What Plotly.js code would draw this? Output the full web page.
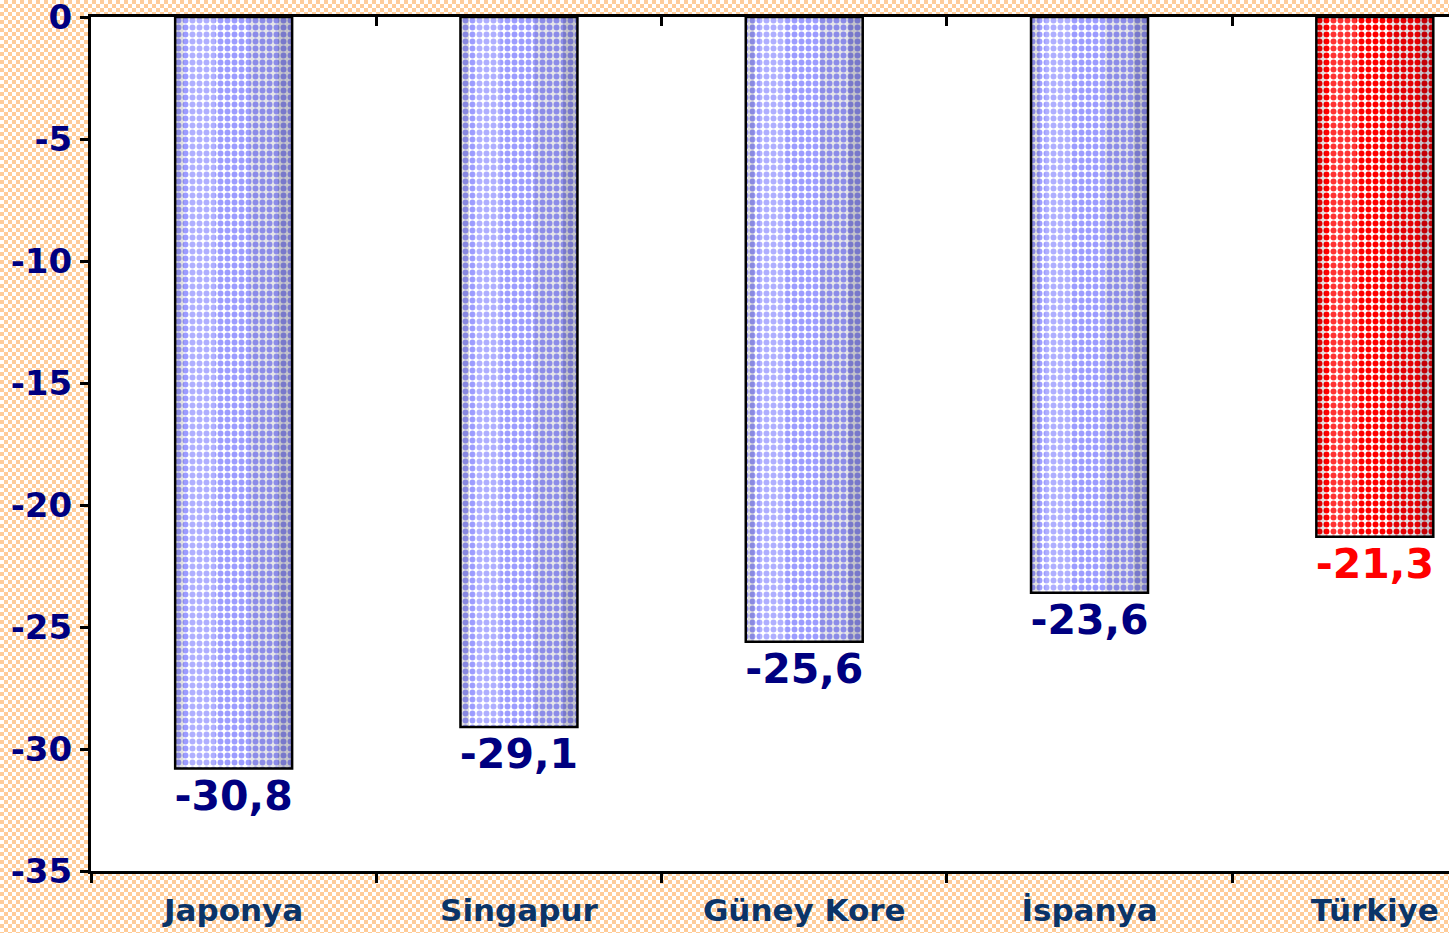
<!DOCTYPE html>
<html>
<head>
<meta charset="utf-8">
<script src="https://cdn.plot.ly/plotly-3.0.1.min.js"></script>
<style>
html,body{margin:0;padding:0;}
body{
  width:1449px;height:933px;overflow:hidden;
  background-color:#ffffff;
  background-image:repeating-conic-gradient(#FFCC99 0 25%, #ffffff 0 50%);
  background-size:8px 8px;
}
#chart{width:1449px;height:933px;}
</style>
</head>
<body>
<div id="chart"></div>
<script>
const categories = ["Japonya", "Singapur", "Güney Kore", "İspanya", "Türkiye"];
const values = [-30.8, -29.1, -25.6, -23.6, -21.3];
const barColors = ["#9C9CFF", "#9C9CFF", "#9C9CFF", "#9C9CFF", "#FF0000"];
const patternColors = ["#DADADA", "#DADADA", "#DADADA", "#DADADA", "#F2F2F2"];
const labelColors = ["#000080", "#000080", "#000080", "#000080", "#FF0000"];
const yTickVals = [0, -5, -10, -15, -20, -25, -30, -35];
const yTickText = ["0", "-5", "-10", "-15", "-20", "-25", "-30", "-35"];

const labels = values.map(v => v.toFixed(1).replace(".", ","));
const font = "DejaVu Sans, Verdana, sans-serif";
const BW = 0.41;

const bars = {
  type: "bar",
  x: categories,
  y: values,
  width: BW,
  offset: -BW / 2,
  text: labels,
  textposition: "outside",
  cliponaxis: false,
  constraintext: "none",
  textfont: {family: font, size: 41, color: labelColors, weight: "bold"},
  marker: {
    color: barColors,
    line: {color: "#000000", width: 0},
    pattern: {shape: ".", bgcolor: barColors, fgcolor: patternColors, fgopacity: 1,
              size: 7, solidity: 0.55, fillmode: "replace"}
  },
  hoverinfo: "skip",
  showlegend: false
};

// cylinder-like shading strips drawn over the bars
const shadeLeft = {
  type: "bar", x: categories, y: values,
  width: 0.03, offset: -BW / 2,
  marker: {color: "rgba(0,0,0,0.12)", line: {width: 0}},
  hoverinfo: "skip", showlegend: false
};
const highlight = {
  type: "bar", x: categories, y: values,
  width: 0.09, offset: -BW / 2 + 0.05,
  marker: {color: "rgba(255,255,255,0.2)", line: {width: 0}},
  hoverinfo: "skip", showlegend: false
};
const shadeRight = {
  type: "bar", x: categories, y: values,
  width: 0.15, offset: BW / 2 - 0.15,
  marker: {color: "rgba(0,0,30,0.10)", line: {width: 0}},
  hoverinfo: "skip", showlegend: false
};
const shadeEdge = {
  type: "bar", x: categories, y: values,
  width: 0.05, offset: BW / 2 - 0.05,
  marker: {color: "rgba(0,0,30,0.14)", line: {width: 0}},
  hoverinfo: "skip", showlegend: false
};
const outline = {
  type: "bar", x: categories, y: values,
  width: BW, offset: -BW / 2,
  marker: {color: "rgba(0,0,0,0)", line: {color: "#000000", width: 2.5}},
  hoverinfo: "skip", showlegend: false
};

const topAxisTrace = {
  type: "bar",
  x: categories,
  y: values,
  xaxis: "x2",
  yaxis: "y",
  opacity: 0,
  hoverinfo: "skip",
  showlegend: false,
  marker: {color: "rgba(0,0,0,0)"}
};

const layout = {
  width: 1449,
  height: 933,
  margin: {l: 91, r: 0, t: 17, b: 62},
  paper_bgcolor: "rgba(0,0,0,0)",
  plot_bgcolor: "#ffffff",
  showlegend: false,
  barmode: "overlay",
  xaxis: {
    type: "category",
    categoryorder: "array",
    categoryarray: categories,
    range: [-0.5, 4.26],
    showline: true,
    linecolor: "#000000",
    linewidth: 3,
    ticks: "outside",
    tickson: "boundaries",
    ticklen: 9,
    tickwidth: 3,
    tickcolor: "#000000",
    showgrid: false,
    zeroline: false,
    tickfont: {family: font, size: 31, color: "#0B3468", weight: "bold"},
    ticklabelstandoff: 10,
    ticklabeloverflow: "allow"
  },
  xaxis2: {
    type: "category",
    categoryorder: "array",
    categoryarray: categories,
    overlaying: "x",
    matches: "x",
    side: "top",
    range: [-0.5, 4.26],
    showline: true,
    linecolor: "#000000",
    linewidth: 3,
    ticks: "inside",
    tickson: "boundaries",
    ticklen: 9,
    tickwidth: 3,
    tickcolor: "#000000",
    showticklabels: false,
    showgrid: false,
    zeroline: false
  },
  yaxis: {
    range: [-35, 0],
    tickvals: yTickVals,
    ticktext: yTickText,
    showline: true,
    linecolor: "#000000",
    linewidth: 3,
    ticks: "outside",
    ticklen: 8,
    tickwidth: 3,
    tickcolor: "#000000",
    showgrid: false,
    zeroline: false,
    tickfont: {family: font, size: 34, color: "#000080", weight: "bold"},
    ticklabelstandoff: 1,
    ticklabeloverflow: "allow"
  }
};

Plotly.newPlot("chart", [bars, shadeLeft, highlight, shadeRight, shadeEdge, outline, topAxisTrace], layout, {staticPlot: true, displayModeBar: false});
</script>
</body>
</html>
